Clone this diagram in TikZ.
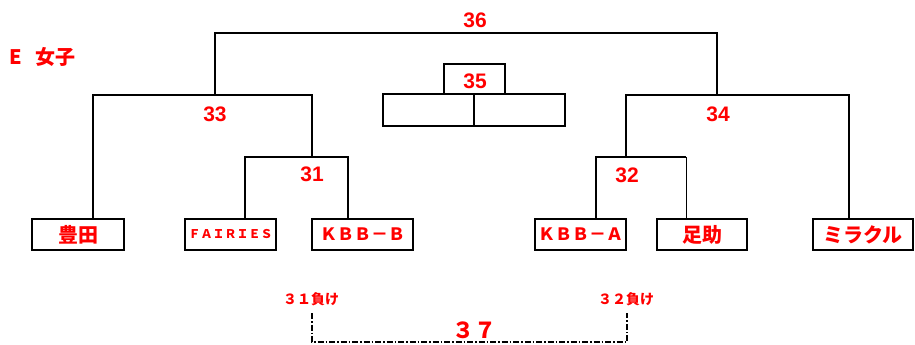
\documentclass[tikz,border=0pt]{standalone}
\usepackage{fontspec}
\setmainfont{Liberation Sans}
\newfontfamily\jp{Noto Sans CJK JP}
\usetikzlibrary{positioning}

\begin{document}
\begin{tikzpicture}[x=1pt, y=-1pt,
    team/.style={draw, line width=2pt, minimum height=31pt, inner sep=0pt, text=red, font=\jp\bfseries\fontsize{20}{20}\selectfont},
    num/.style={text=red, inner sep=0pt, font=\bfseries\fontsize{21}{21}\selectfont},
    link/.style={line width=2pt},
    thin/.style={line width=1pt},
    lose/.style={text=red, inner sep=0pt, font=\jp\bfseries\fontsize{14}{14}\selectfont}]
  \useasboundingbox (0,0) rectangle (915,345);

  \node[text=red, inner sep=0pt, font=\jp\bfseries\fontsize{20}{20}\selectfont, anchor=west] (title) at (9,57) {E\hspace{14pt}女子};

  % teams
  \node[team, minimum width=92pt] (toyota) at (78,234.5) {豊田};
  \node[team, minimum width=91pt, font=\jp\bfseries\fontsize{12}{12}\selectfont] (fairies) at (230.5,234.5) {ＦＡＩＲＩＥＳ};
  \node[team, minimum width=101pt, font=\jp\bfseries\fontsize{17}{17}\selectfont] (kbbb) at (362.5,234.5) {ＫＢＢ－Ｂ};
  \node[team, minimum width=91pt, font=\jp\bfseries\fontsize{17}{17}\selectfont] (kbba) at (580.5,234.5) {ＫＢＢ－Ａ};
  \node[team, minimum width=90pt] (asuke) at (702,234.5) {足助};
  \node[team, minimum width=100pt] (miracle) at (863,234.5) {ミラクル};

  % brackets
  \coordinate (m31l) at (245,157);  \coordinate (m31r) at (348,157);
  \coordinate (m32l) at (596,157);  \coordinate (m32r) at (686,157);
  \coordinate (m33l) at (93,95);    \coordinate (m33r) at (312,95);
  \coordinate (m34l) at (626,95);   \coordinate (m34r) at (849,95);
  \coordinate (m36l) at (215,33);   \coordinate (m36r) at (717,33);

  \draw[link] (fairies.north -| m31l) -- (m31l) -- (m31r) -- (kbbb.north -| m31r);
  \draw[link] (kbba.north -| m32l) -- (m32l) -- (m32r);
  \draw[thin] (m32r) -- (asuke.north -| m32r);
  \draw[link] (toyota.north -| m33l) -- (m33l) -- (m33r) -- (m33r |- m31l);
  \draw[link] (m34l |- m32l) -- (m34l) -- (m34r) -- (miracle.north -| m34r);
  \draw[link] (m36l |- m33l) -- (m36l) -- (m36r) -- (m36r |- m34l);

  \node[num] (n31) at (312,174) {31};
  \node[num] (n32) at (627,175) {32};
  \node[num] (n33) at (215,114) {33};
  \node[num] (n34) at (718,114) {34};
  \node[num] (n36) at (475,20.5) {36};

  % third place
  \draw[link] (444,94) rectangle (505,64);
  \draw[link] (383,94) rectangle (474,126);
  \draw[link] (474,94) rectangle (565,126);
  \node[num] (n35) at (475,81.5) {35};

  % losers
  \node[lose] (lose31) at (311,299) {３１負け};
  \node[lose] (lose32) at (626,299) {３２負け};
  \coordinate (b31) at (312,313);
  \coordinate (b32) at (627,313);
  \draw[line width=1.5pt, dash pattern=on 6pt off 2pt on 1.5pt off 2pt] (b31) -- (b31 |- 0,342) -- (b32 |- 0,342) -- (b32);
  \node[text=red, inner sep=0pt, font=\jp\bfseries\fontsize{22}{22}\selectfont] (n37) at (474,330) {３７};
\end{tikzpicture}
\end{document}
